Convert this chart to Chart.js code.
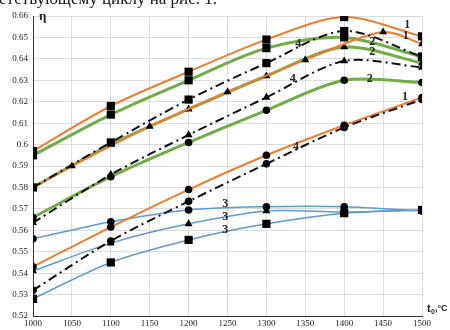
<!DOCTYPE html>
<html>
<head>
    <title>Efficiency vs temperature</title>
    <script src="https://cdn.jsdelivr.net/npm/chart.js"></script>
    <style>
        body {
            margin: 0;
            padding: 0;
            background: #fff;
            overflow: hidden;
        }
        #wrap {
            position: relative;
            width: 450px;
            height: 330px;
        }
        #caption {
            position: absolute;
            right: 233px;
            top: -11px;
            font-family: 'Liberation Serif', serif;
            font-size: 17px;
            color: #111;
            white-space: nowrap;
        }
    </style>
</head>
<body>
<div id="wrap">
    <canvas id="chart" width="450" height="330"></canvas>
    <div id="caption">соответствующему циклу на рис. 1.</div>
</div>
<script>
    // temperatures
    const temps = [1000, 1100, 1200, 1300, 1400, 1500];
    const tempsHalf = [1000, 1050, 1150, 1250, 1350, 1450, 1500];

    // curve 1 (orange)
    const orangeSquare = [0.597, 0.618, 0.634, 0.649, 0.6595, 0.6505];
    const orangeTriangle = [0.580, 0.590, 0.6085, 0.6245, 0.6395, 0.6525, 0.647];
    const orangeCircle = [0.543, 0.5615, 0.579, 0.595, 0.609, 0.622];

    // curve 2 (green)
    const greenSquare = [0.595, 0.614, 0.630, 0.645, 0.650, 0.641];
    const greenTriangle = [0.580, 0.600, 0.6165, 0.632, 0.6455, 0.638];
    const greenCircle = [0.566, 0.585, 0.601, 0.616, 0.630, 0.629];

    // curve 3 (blue)
    const blueSquare = [0.528, 0.545, 0.5555, 0.563, 0.568, 0.5695];
    const blueTriangle = [0.541, 0.554, 0.563, 0.569, 0.5685, 0.5695];
    const blueCircle = [0.556, 0.564, 0.5695, 0.571, 0.571, 0.569];

    // curve 4 (black dash-dot)
    const blackSquare = [0.580, 0.601, 0.621, 0.638, 0.653, 0.641];
    const blackTriangle = [0.5635, 0.586, 0.6045, 0.622, 0.639, 0.636];
    const blackCircle = [0.532, 0.555, 0.5735, 0.591, 0.608, 0.621];

    // curve number labels: [text, temperature, efficiency]
    const curveLabels = [
        ['1', 1481, 0.6558], ['1', 1479, 0.6507], ['1', 1478, 0.6222],
        ['2', 1436, 0.6479], ['2', 1436, 0.6432], ['2', 1433, 0.6306],
        ['4', 1341, 0.6469], ['4', 1334, 0.6306], ['4', 1338, 0.5989],
        ['3', 1247, 0.5723], ['3', 1247, 0.5662], ['3', 1247, 0.5601]
    ];

    const ORANGE = '#ED7D31';
    const GREEN = '#70AD47';
    const BLUE = '#5B9BD5';

    function series(xs, ys, color, width, dash, marker) {
        const r = marker === 'rect' ? 5.8 : (marker === 'triangle' ? 4.6 : 3.8);
        return {
            data: xs.map((x, i) => ({ x: x, y: ys[i] })),
            borderColor: color,
            borderWidth: width,
            borderDash: dash,
            tension: 0.3,
            pointStyle: marker,
            pointRadius: r,
            pointBackgroundColor: '#000',
            pointBorderColor: '#000',
            pointBorderWidth: 0,
            fill: false
        };
    }

    const dashDot = [9, 4, 2, 4];

    const datasets = [
        series(temps, blackSquare, '#111', 2, dashDot, 'rect'),
        series(temps, blackTriangle, '#111', 2, dashDot, 'triangle'),
        series(temps, blackCircle, '#111', 2, dashDot, 'circle'),
        series(temps, orangeSquare, ORANGE, 2, [], 'rect'),
        series(tempsHalf, orangeTriangle, ORANGE, 2, [], 'triangle'),
        series(temps, orangeCircle, ORANGE, 2, [], 'circle'),
        series(temps, greenSquare, GREEN, 3, [], 'rect'),
        series(temps, greenTriangle, GREEN, 3, [], 'triangle'),
        series(temps, greenCircle, GREEN, 3, [], 'circle'),
        series(temps, blueSquare, BLUE, 1.5, [], 'rect'),
        series(temps, blueTriangle, BLUE, 1.5, [], 'triangle'),
        series(temps, blueCircle, BLUE, 1.5, [], 'circle')
    ];

    const textPlugin = {
        id: 'texts',
        afterDatasetsDraw(chart) {
            const ctx = chart.ctx;
            const xs = chart.scales.x, ys = chart.scales.y;
            ctx.save();
            ctx.fillStyle = '#222';
            ctx.font = 'bold 12px "Liberation Serif", serif';
            ctx.textAlign = 'center';
            ctx.textBaseline = 'middle';
            curveLabels.forEach(l => {
                ctx.fillText(l[0], xs.getPixelForValue(l[1]), ys.getPixelForValue(l[2]));
            });
            // axis titles
            ctx.font = 'bold 13px "Liberation Serif", serif';
            ctx.textAlign = 'left';
            ctx.fillText('η', chart.chartArea.left + 6, chart.chartArea.top + 1);
            const bx = chart.chartArea.right + 5, by = chart.chartArea.bottom - 7;
            ctx.font = 'bold 11px "Liberation Sans", sans-serif';
            ctx.fillText('t', bx, by);
            ctx.font = 'bold 7px "Liberation Sans", sans-serif';
            ctx.fillText('0', bx + 4, by + 3);
            ctx.font = 'bold 9px "Liberation Sans", sans-serif';
            ctx.fillText(',°C', bx + 8, by);
            ctx.restore();
        }
    };

    new Chart(document.getElementById('chart'), {
        type: 'line',
        data: { datasets: datasets },
        plugins: [textPlugin],
        options: {
            responsive: false,
            animation: false,
            layout: { padding: { top: 16, right: 28, left: 0, bottom: 0 } },
            plugins: {
                legend: { display: false },
                tooltip: { enabled: false }
            },
            scales: {
                x: {
                    type: 'linear',
                    min: 1000,
                    max: 1500,
                    afterFit: s => { s.height = 14; },
                    ticks: {
                        stepSize: 50,
                        padding: 2,
                        color: '#222',
                        font: { family: '"Liberation Serif", serif', size: 9 },
                        callback: v => String(v)
                    },
                    grid: { color: '#dcdcdc', drawTicks: false },
                    border: { color: '#333', width: 1 }
                },
                y: {
                    min: 0.52,
                    max: 0.66,
                    afterFit: s => { s.width = 33; },
                    ticks: {
                        stepSize: 0.01,
                        padding: 5,
                        color: '#222',
                        font: { family: '"Liberation Serif", serif', size: 9 },
                        callback: v => String(Number(v.toFixed(2)))
                    },
                    grid: { color: '#dcdcdc', drawTicks: false },
                    border: { color: '#333', width: 1 }
                }
            }
        }
    });
</script>
</body>
</html>
